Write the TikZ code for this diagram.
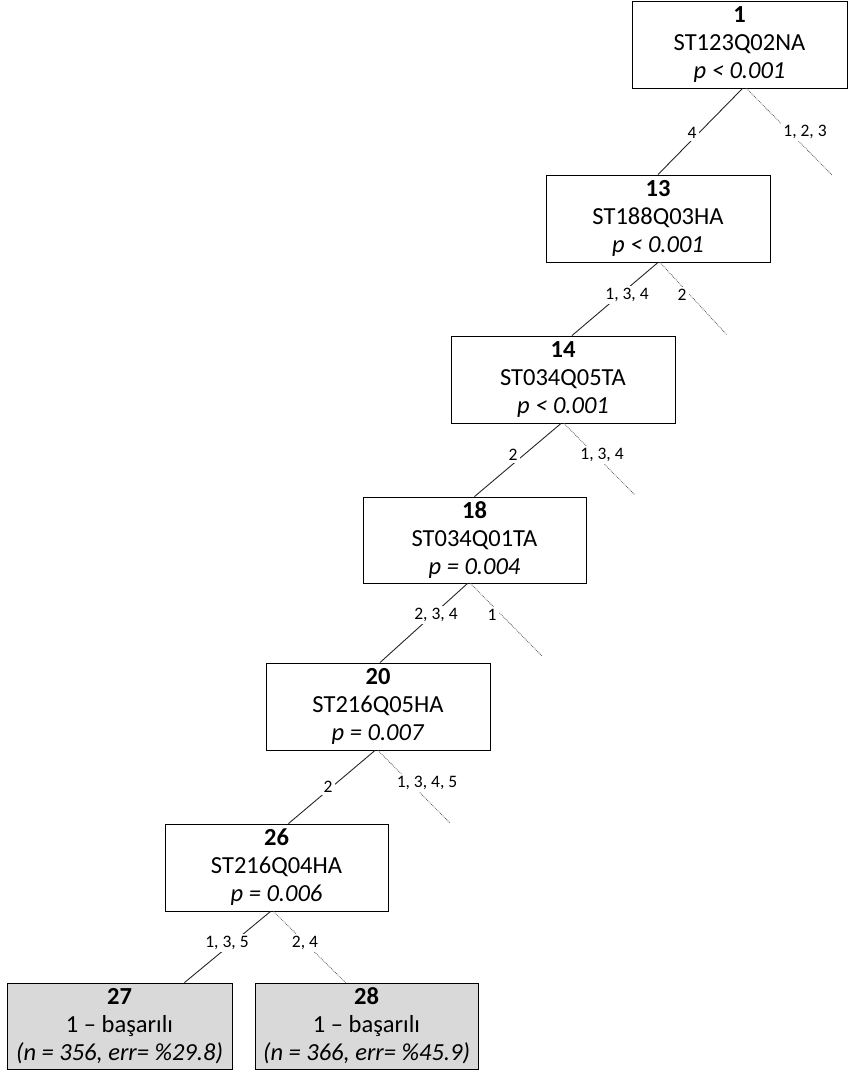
\documentclass[tikz,border=0pt]{standalone}
\usepackage{fontspec}
\setmainfont{Carlito}
\usetikzlibrary{calc}
\definecolor{leafgray}{RGB}{217,217,217}
\tikzset{
  treenode/.style={draw=black, line width=0.9pt, inner sep=0pt, align=center,
    font=\fontsize{24.5}{28}\selectfont, minimum height=87pt},
  leafnode/.style={treenode, fill=leafgray},
  yesedge/.style={draw=black!85, line width=0.9pt},
  noedge/.style={draw=black!65, line width=0.8pt, densely dotted},
  elabel/.style={fill=white, inner sep=2.5pt, font=\fontsize{17.5}{20}\selectfont}
}
\begin{document}
\begin{tikzpicture}[x=1pt,y=-1pt]
\useasboundingbox (0,0) rectangle (848,1072);
% nodes
\node[treenode, minimum width=215pt] (n1) at (739.5,44.5) {\textbf{1}\\ST123Q02NA\\\textit{p < 0.001}};
\node[treenode, minimum width=224pt] (n13) at (658,218.5) {\textbf{13}\\ST188Q03HA\\\textit{p < 0.001}};
\node[treenode, minimum width=224pt] (n14) at (563,379.5) {\textbf{14}\\ST034Q05TA\\\textit{p < 0.001}};
\node[treenode, minimum width=223pt, minimum height=86pt] (n18) at (474.5,540) {\textbf{18}\\ST034Q01TA\\\textit{p = 0.004}};
\node[treenode, minimum width=224pt] (n20) at (378,706.5) {\textbf{20}\\ST216Q05HA\\\textit{p = 0.007}};
\node[treenode, minimum width=223pt] (n26) at (276.5,867.5) {\textbf{26}\\ST216Q04HA\\\textit{p = 0.006}};
\node[leafnode, minimum width=225pt, minimum height=86pt] (n27) at (119.5,1026) {\textbf{27}\\1 – başarılı\\\textit{(n = 356, err= \%29.8)}};
\node[leafnode, minimum width=223pt, minimum height=86pt] (n28) at (366.5,1026) {\textbf{28}\\1 – başarılı\\\textit{(n = 366, err= \%45.9)}};
% free ends of pruned branches
\coordinate (c1) at (832,175);
\coordinate (c13) at (727,335);
\coordinate (c14) at (635,495);
\coordinate (c18) at (542,656);
\coordinate (c20) at (450,823);
% edges
\draw[yesedge] ($(n1.south)+(3,0)$) -- (n13.north);
\draw[noedge] ($(n1.south)+(7,0)$) -- (c1);
\draw[yesedge] (n13.south) -- ($(n14.north)+(9,0)$);
\draw[noedge] ($(n13.south)+(2,0)$) -- (c13);
\draw[yesedge] ($(n14.south)+(-2,0)$) -- (n18.north);
\draw[noedge] ($(n14.south)+(1,0)$) -- (c14);
\draw[yesedge] ($(n18.south)+(-7,0)$) -- ($(n20.north)+(2,0)$);
\draw[noedge] ($(n18.south)+(-4,0)$) -- (c18);
\draw[yesedge] ($(n20.south)+(-3,0)$) -- ($(n26.north)+(12,0)$);
\draw[noedge] ($(n20.south)+(0,0)$) -- (c20);
\draw[yesedge] ($(n26.south)+(-6,0)$) -- ($(n27.north)+(65,0)$);
\draw[noedge] ($(n26.south)+(-3,0)$) -- ($(n28.north)+(-21,0)$);
% edge labels
\node[elabel] (l1a) at (692,133) {4};
\node[elabel] (l1b) at (805,132) {1, 2, 3};
\node[elabel] (l13a) at (627,295) {1, 3, 4};
\node[elabel] (l13b) at (682,295) {2};
\node[elabel] (l14a) at (513,455) {2};
\node[elabel] (l14b) at (602,455) {1, 3, 4};
\node[elabel] (l18a) at (436,615) {2, 3, 4};
\node[elabel] (l18b) at (492,615) {1};
\node[elabel] (l20a) at (328,787) {2};
\node[elabel] (l20b) at (427,783) {1, 3, 4, 5};
\node[elabel] (l26a) at (227,943) {1, 3, 5};
\node[elabel] (l26b) at (305,943) {2, 4};
\end{tikzpicture}
\end{document}
